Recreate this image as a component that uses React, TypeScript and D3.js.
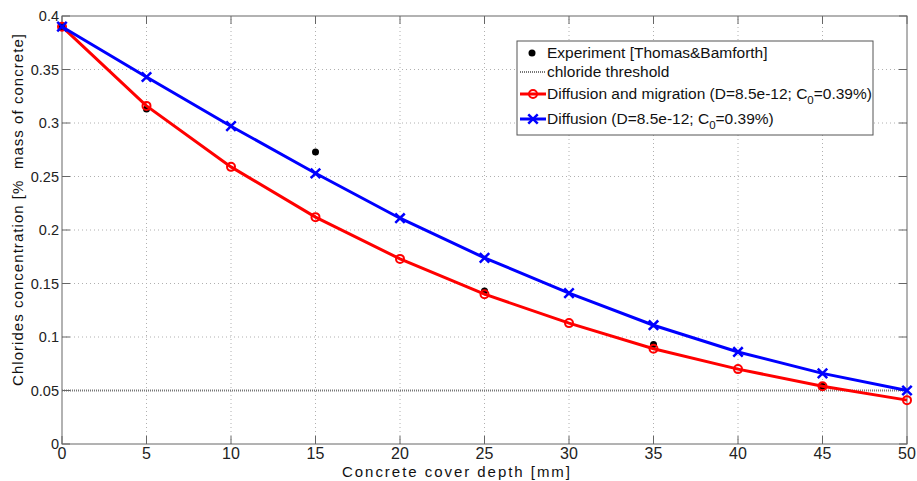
import React, { useEffect, useRef } from 'react';
import * as d3 from 'd3';

const depth = [0, 5, 10, 15, 20, 25, 30, 35, 40, 45, 50];
const migration = [0.39, 0.316, 0.259, 0.212, 0.173, 0.14, 0.113, 0.089, 0.07, 0.054, 0.041];
const diffusion = [0.39, 0.343, 0.297, 0.253, 0.211, 0.174, 0.141, 0.111, 0.086, 0.066, 0.05];
const expDepth = [0, 5, 15, 25, 35, 45];
const expValue = [0.39, 0.313, 0.273, 0.143, 0.093, 0.054];
const threshold = 0.05;
const xTicks = [0, 5, 10, 15, 20, 25, 30, 35, 40, 45, 50];
const yTicks = [0, 0.05, 0.1, 0.15, 0.2, 0.25, 0.3, 0.35, 0.4];

const App = () => {
  const svgRef = useRef<SVGSVGElement>(null);

  const width = 917;
  const height = 481;

  useEffect(() => {
    const svg = d3.select(svgRef.current);
    svg.selectAll('*').remove();

    const margin = { top: 16, right: 10, bottom: 37, left: 62 };
    const x = d3.scaleLinear().domain([0, 50]).range([margin.left, width - margin.right]);
    const y = d3.scaleLinear().domain([0, 0.4]).range([height - margin.bottom, margin.top]);
    const font = 'Liberation Sans, Arial, sans-serif';

    // grid
    const grid = svg.append('g');
    grid.selectAll('.vg')
      .data(xTicks.slice(1, -1))
      .enter()
      .append('line')
      .attr('x1', d => x(d)).attr('x2', d => x(d))
      .attr('y1', y(0)).attr('y2', y(0.4))
      .style('stroke', '#b0b0b0')
      .style('stroke-width', 1)
      .style('stroke-dasharray', '1,3');
    grid.selectAll('.hg')
      .data(yTicks.slice(1, -1))
      .enter()
      .append('line')
      .attr('x1', x(0)).attr('x2', x(50))
      .attr('y1', d => y(d)).attr('y2', d => y(d))
      .style('stroke', '#b0b0b0')
      .style('stroke-width', 1)
      .style('stroke-dasharray', '1,3');

    // threshold
    svg.append('line')
      .attr('x1', x(0)).attr('x2', x(50))
      .attr('y1', y(threshold)).attr('y2', y(threshold))
      .style('stroke', '#777')
      .style('stroke-width', 2)
      .style('stroke-dasharray', '1,1');

    // axes box and ticks
    const axis = svg.append('g');
    axis.append('rect')
      .attr('x', x(0)).attr('y', y(0.4))
      .attr('width', x(50) - x(0)).attr('height', y(0) - y(0.4))
      .style('fill', 'none')
      .style('stroke', '#666')
      .style('stroke-width', 1);
    xTicks.forEach(t => {
      axis.append('line').attr('x1', x(t)).attr('x2', x(t)).attr('y1', y(0)).attr('y2', y(0) - 8).style('stroke', '#666');
      axis.append('line').attr('x1', x(t)).attr('x2', x(t)).attr('y1', y(0.4)).attr('y2', y(0.4) + 8).style('stroke', '#666');
      axis.append('text')
        .attr('x', x(t)).attr('y', y(0) + 15)
        .attr('text-anchor', 'middle')
        .style('font-family', font).style('font-size', '16px').style('fill', '#222')
        .text(String(t));
    });
    yTicks.forEach(t => {
      axis.append('line').attr('x1', x(0)).attr('x2', x(0) + 8).attr('y1', y(t)).attr('y2', y(t)).style('stroke', '#666');
      axis.append('line').attr('x1', x(50)).attr('x2', x(50) - 8).attr('y1', y(t)).attr('y2', y(t)).style('stroke', '#666');
      axis.append('text')
        .attr('x', x(0) - 3).attr('y', y(t) + 5)
        .attr('text-anchor', 'end')
        .style('font-family', font).style('font-size', '14.5px').style('fill', '#222')
        .text(d3.format('~g')(t));
    });

    // experiment points
    svg.selectAll('.exp')
      .data(expDepth.map((d, i) => [d, expValue[i]]))
      .enter()
      .append('circle')
      .attr('cx', d => x(d[0])).attr('cy', d => y(d[1]))
      .attr('r', 3.5)
      .style('fill', 'black');

    const line = d3.line<number>().x((_, i) => x(depth[i])).y(d => y(d));

    // migration
    svg.append('path').datum(migration).attr('d', line)
      .style('fill', 'none').style('stroke', '#ff0000').style('stroke-width', 3);
    svg.selectAll('.mig')
      .data(migration)
      .enter()
      .append('circle')
      .attr('cx', (_, i) => x(depth[i])).attr('cy', d => y(d))
      .attr('r', 4)
      .style('fill', 'none').style('stroke', '#ff0000').style('stroke-width', 2);

    // diffusion
    svg.append('path').datum(diffusion).attr('d', line)
      .style('fill', 'none').style('stroke', '#0000ff').style('stroke-width', 3);
    const cross = d3.symbol().type(d3.symbolX).size(60);
    svg.selectAll('.dif')
      .data(diffusion)
      .enter()
      .append('path')
      .attr('d', cross)
      .attr('transform', (d, i) => `translate(${x(depth[i])},${y(d)})`)
      .style('fill', 'none').style('stroke', '#0000ff').style('stroke-width', 2.5);

    // legend
    const lg = svg.append('g').attr('transform', 'translate(517,41)');
    lg.append('rect').attr('width', 356).attr('height', 94)
      .style('fill', 'white').style('stroke', '#555').style('stroke-width', 1);
    const rowY = [12, 31, 53, 78];
    lg.append('circle').attr('cx', 15).attr('cy', rowY[0]).attr('r', 3.5).style('fill', 'black');
    lg.append('line').attr('x1', 3).attr('x2', 29).attr('y1', rowY[1]).attr('y2', rowY[1])
      .style('stroke', '#777').style('stroke-width', 2).style('stroke-dasharray', '1,1');
    lg.append('line').attr('x1', 3).attr('x2', 29).attr('y1', rowY[2]).attr('y2', rowY[2])
      .style('stroke', '#ff0000').style('stroke-width', 3);
    lg.append('circle').attr('cx', 16).attr('cy', rowY[2]).attr('r', 4)
      .style('fill', 'none').style('stroke', '#ff0000').style('stroke-width', 2);
    lg.append('line').attr('x1', 3).attr('x2', 29).attr('y1', rowY[3]).attr('y2', rowY[3])
      .style('stroke', '#0000ff').style('stroke-width', 3);
    lg.append('path').attr('d', cross).attr('transform', `translate(16,${rowY[3]})`)
      .style('fill', 'none').style('stroke', '#0000ff').style('stroke-width', 2.5);

    const lt = (i: number) => lg.append('text')
      .attr('x', 30).attr('y', rowY[i] + 5)
      .style('font-family', font).style('font-size', '15.5px').style('fill', '#111');
    lt(0).text('Experiment [Thomas&Bamforth]');
    lt(1).text('chloride threshold');
    const t2 = lt(2).text('Diffusion and migration (D=8.5e-12; C');
    t2.append('tspan').attr('dy', 5).style('font-size', '11.5px').text('0');
    t2.append('tspan').attr('dy', -5).text('=0.39%)');
    const t3 = lt(3).text('Diffusion (D=8.5e-12; C');
    t3.append('tspan').attr('dy', 5).style('font-size', '11.5px').text('0');
    t3.append('tspan').attr('dy', -5).text('=0.39%)');

    // axis labels
    svg.append('text')
      .attr('x', 456).attr('y', 477)
      .attr('text-anchor', 'middle')
      .attr('textLength', 228)
      .attr('lengthAdjust', 'spacing')
      .style('font-family', font).style('font-size', '15px').style('fill', '#111')
      .text('Concrete cover depth [mm]');
    svg.append('text')
      .attr('transform', `translate(23,210) rotate(-90)`)
      .attr('text-anchor', 'middle')
      .attr('textLength', 352)
      .attr('lengthAdjust', 'spacing')
      .style('font-family', font).style('font-size', '15px').style('fill', '#111')
      .style('white-space', 'pre')
      .text('Chlorides concentration [%  mass of concrete]');
  }, []);

  return (
    <svg ref={svgRef} width={width} height={height}
      style={{ position: 'absolute', left: 0, top: 0, background: 'white' }}></svg>
  );
};

export default App;
